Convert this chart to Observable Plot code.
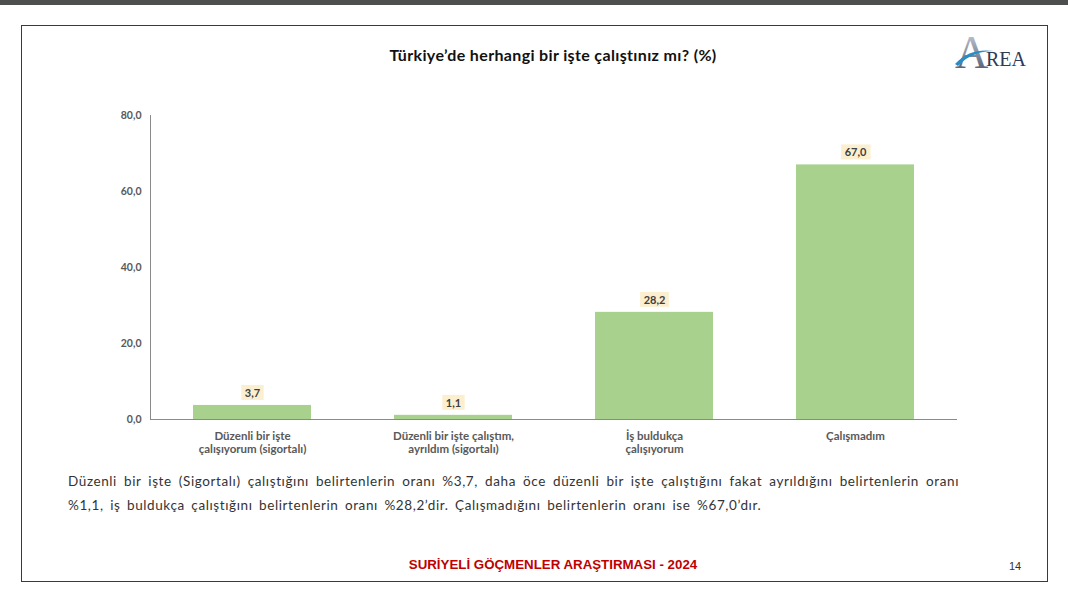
<!DOCTYPE html>
<html>
<head>
<meta charset="utf-8">
<script src="https://cdn.jsdelivr.net/npm/d3@7"></script>
<script src="https://cdn.jsdelivr.net/npm/@observablehq/plot@0.6"></script>
<style>
  html, body { margin: 0; padding: 0; }
  body { width: 1068px; height: 589px; position: relative; background: #ffffff; overflow: hidden; font-family: Lato, "Open Sans", sans-serif; }
  #topbar { position: absolute; left: 0; top: 0; width: 1068px; height: 5px; background: #4d4f4f; }
  #frame { position: absolute; left: 21px; top: 25px; width: 1027px; height: 557px; border: 1px solid #3a3a3a; box-sizing: border-box; }
  #title { position: absolute; left: 253px; top: 45px; width: 600px; text-align: center; font-family: Lato, sans-serif; font-weight: 700; font-size: 16px; letter-spacing: 0.35px; color: #111; }
  #chart { position: absolute; left: 0; top: 100px; }
  #para { position: absolute; left: 68px; top: 469px; width: 891px; font-family: Lato, sans-serif; font-size: 13.5px; letter-spacing: 0.6px; color: #333; line-height: 24px; }
  #para .l1 { display: block; white-space: nowrap; text-align: justify; text-align-last: justify; }
  #para .l2 { display: block; white-space: nowrap; word-spacing: 2.5px; }
  #footer { position: absolute; left: 253px; top: 557px; width: 600px; text-align: center; font-family: "Liberation Sans", Arial, sans-serif; font-weight: 700; font-size: 13.3px; color: #c00000; }
  #page { position: absolute; left: 1009px; top: 560px; font-family: "Liberation Sans", sans-serif; font-size: 11px; color: #333; }
  #logo { position: absolute; left: 952px; top: 28px; overflow: visible; }
</style>
</head>
<body>
<div id="topbar"></div>
<div id="frame"></div>
<div id="title">Türkiye’de herhangi bir işte çalıştınız mı? (%)</div>
<svg id="logo" width="90" height="46" viewBox="0 0 90 46">
  <defs>
    <linearGradient id="ag" x1="0" y1="0" x2="0" y2="1">
      <stop offset="0" stop-color="#d3d7df"/>
      <stop offset="1" stop-color="#3e4a63"/>
    </linearGradient>
  </defs>
  <text x="3" y="40" font-family="Liberation Serif, serif" font-size="46" fill="url(#ag)">A</text>
  <path d="M3 36 C 14 24, 27 21, 42 23 C 29 23, 16 27, 6 38 Z" fill="#2b8cc4"/>
  <text x="34" y="38" font-family="Liberation Serif, serif" font-size="20" fill="#2f3b55">REA</text>
</svg>
<div id="chart"></div>
<div id="para"><span class="l1">Düzenli bir işte (Sigortalı) çalıştığını belirtenlerin oranı %3,7, daha öce düzenli bir işte çalıştığını fakat ayrıldığını belirtenlerin oranı</span><span class="l2">%1,1, iş buldukça çalıştığını belirtenlerin oranı %28,2’dir. Çalışmadığını belirtenlerin oranı ise %67,0’dır.</span></div>
<div id="footer">SURİYELİ GÖÇMENLER ARAŞTIRMASI - 2024</div>
<div id="page">14</div>
<script>
const categories = [
  "Düzenli bir işte\nçalışıyorum (sigortalı)",
  "Düzenli bir işte çalıştım,\nayrıldım (sigortalı)",
  "İş buldukça\nçalışıyorum",
  "Çalışmadım"
];
const values = [3.7, 1.1, 28.2, 67.0];
const yTicks = [0, 20, 40, 60, 80];

const data = categories.map((c, i) => ({category: c, value: values[i]}));
const fmt = d => d.toFixed(1).replace(".", ",");

const plot = Plot.plot({
  width: 1068,
  height: 360,
  marginLeft: 150,
  marginRight: 111,
  marginTop: 15,
  marginBottom: 41,
  style: {fontFamily: "Lato, sans-serif", background: "transparent", overflow: "visible"},
  x: {domain: categories, paddingInner: 0.413, paddingOuter: 0.209, label: null},
  y: {domain: [0, 80], ticks: yTicks, tickFormat: fmt, label: null},
  marks: [
    Plot.frame({anchor: "left", stroke: "#8a8a8a"}),
    Plot.barY(data, {x: "category", y: "value", fill: "#a9d18e"}),
    Plot.ruleY([0], {stroke: "#8a8a8a"}),
    Plot.axisY({ticks: yTicks, tickFormat: fmt, tickSize: 0, tickPadding: 9, fontSize: 10.5, fontWeight: 700, fill: "#595959", label: null}),
    Plot.axisX({tickSize: 0, tickPadding: 11, fontSize: 11.5, fontWeight: 700, fill: "#595959", lineHeight: 1.13, label: null}),
    Plot.text(data, {x: "category", y: "value", text: d => fmt(d.value), dy: -12, fontSize: 11, fontWeight: 700, fill: "#404040"})
  ]
});
document.getElementById("chart").appendChild(plot);

// label boxes behind value labels
const g = plot.querySelector('g[aria-label="text"]');
if (g) {
  const boxes = document.createElementNS("http://www.w3.org/2000/svg", "g");
  const gt = g.getAttribute("transform");
  if (gt) boxes.setAttribute("transform", gt);
  g.querySelectorAll("text").forEach(t => {
    const b = t.getBBox();
    const tt = t.getAttribute("transform");
    const r = document.createElementNS("http://www.w3.org/2000/svg", "rect");
    r.setAttribute("x", b.x - 3.5);
    r.setAttribute("y", b.y - 1);
    r.setAttribute("width", b.width + 7);
    r.setAttribute("height", b.height + 2);
    r.setAttribute("fill", "#fcefcf");
    if (tt) r.setAttribute("transform", tt);
    boxes.appendChild(r);
  });
  g.parentNode.insertBefore(boxes, g);
}
</script>
</body>
</html>
